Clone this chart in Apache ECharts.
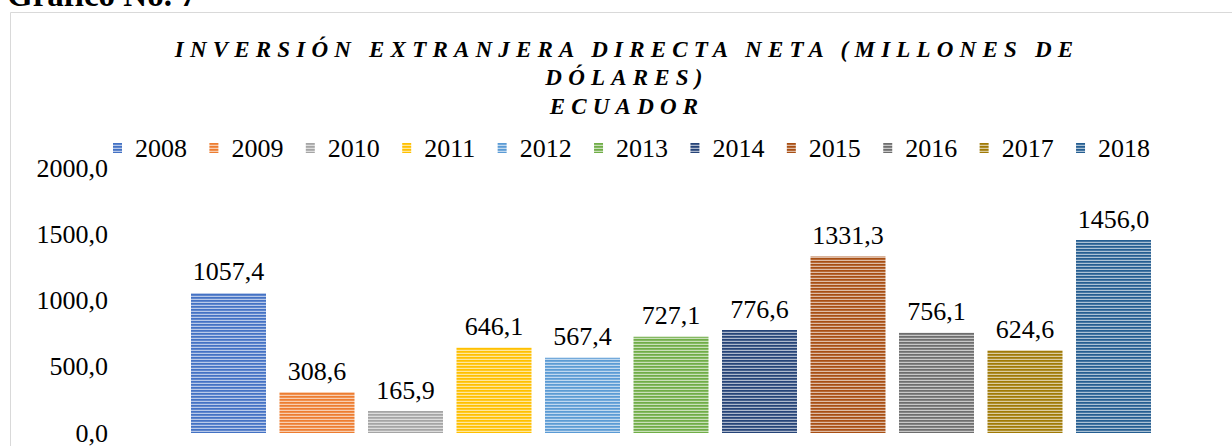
<!DOCTYPE html>
<html>
<head>
<meta charset="utf-8">
<script src="https://cdn.jsdelivr.net/npm/echarts@6/dist/echarts.min.js"></script>
<style>
  html, body { margin: 0; padding: 0; background: #fff; }
  #chart { width: 1232px; height: 446px; }
  #chart text[style*="italic"] { letter-spacing: 6.2px; }
</style>
</head>
<body>
<div id="chart"></div>
<script>
// ---- data ----
const years = ['2008', '2009', '2010', '2011', '2012', '2013', '2014', '2015', '2016', '2017', '2018'];
const values = [1057.4, 308.6, 165.9, 646.1, 567.4, 727.1, 776.6, 1331.3, 756.1, 624.6, 1456.0];
const colors = ['#4472C4', '#ED7D31', '#A5A5A5', '#FFC000', '#5B9BD5', '#70AD47',
                '#264478', '#A84F14', '#6E6E6E', '#A07A06', '#255E91'];
const yTicks = { min: 0, max: 2000, interval: 500 };
const titleText = 'INVERSIÓN EXTRANJERA DIRECTA NETA (MILLONES DE\nDÓLARES)\nECUADOR';
const captionText = 'Gráfico No. 7';

const FONT = "'Liberation Serif', 'Times New Roman', serif";

function mix(hex, t) {
  const n = parseInt(hex.slice(1), 16);
  const r = (n >> 16) & 255, g = (n >> 8) & 255, b = n & 255;
  const m = c => Math.round(c + (255 - c) * t);
  return 'rgb(' + m(r) + ',' + m(g) + ',' + m(b) + ')';
}
function stripes(hex) {
  const c = document.createElement('canvas');
  c.width = 4; c.height = 3;
  const ctx = c.getContext('2d');
  const rows = [hex, mix(hex, 0.15), mix(hex, 0.62)];
  rows.forEach((col, i) => { ctx.fillStyle = col; ctx.fillRect(0, i, 4, 1); });
  return { image: c.toDataURL(), repeat: 'repeat', imageWidth: 4, imageHeight: 3 };
}
const fmt = v => Number(v).toFixed(1).replace('.', ',');

const chart = echarts.init(document.getElementById('chart'), null, { renderer: 'svg' });

const series = years.map((y, i) => ({
  name: y,
  type: 'bar',
  data: [values[i]],
  barWidth: 75,
  barGap: '18%',
  itemStyle: { color: stripes(colors[i]) },
  label: {
    show: true, position: 'top', distance: 8,
    formatter: p => fmt(p.value),
    fontFamily: FONT, fontSize: 26, color: '#000'
  }
}));

chart.setOption({
  animation: false,
  legend: {
    left: 113, top: 135, padding: 0,
    itemWidth: 9, itemHeight: 10, itemGap: 22.4,
    icon: 'rect',
    textStyle: { fontFamily: FONT, fontSize: 26, color: '#000', padding: [0, 0, 0, 8] },
    data: years
  },
  grid: { left: 117, right: 7, top: 168, bottom: 7.5 },
  xAxis: {
    type: 'category', data: [''],
    axisLine: { show: false }, axisTick: { show: false }, axisLabel: { show: false }
  },
  yAxis: {
    type: 'value', min: yTicks.min, max: yTicks.max, interval: yTicks.interval,
    axisLine: { show: false }, axisTick: { show: false }, splitLine: { show: false },
    axisLabel: { formatter: fmt, fontFamily: FONT, fontSize: 26, color: '#000', margin: 9 }
  },
  graphic: [
    { type: 'rect', shape: { x: 10.5, y: 12.5, width: 1400, height: 600 },
      style: { fill: 'none', stroke: '#d9d9d9', lineWidth: 1 }, silent: true },
    { type: 'text', x: 7, y: 11,
      style: {
        text: captionText, verticalAlign: 'bottom',
        fontFamily: FONT, fontSize: 33, fontWeight: 'bold', fill: '#000'
      } },
    { type: 'text', x: 627, y: 35,
      style: {
        text: titleText, align: 'center', verticalAlign: 'top',
        fontFamily: FONT, fontStyle: 'italic', fontWeight: 'bold',
        fontSize: 23, lineHeight: 28.5, fill: '#000'
      } }
  ],
  series: series
});
</script>
</body>
</html>
